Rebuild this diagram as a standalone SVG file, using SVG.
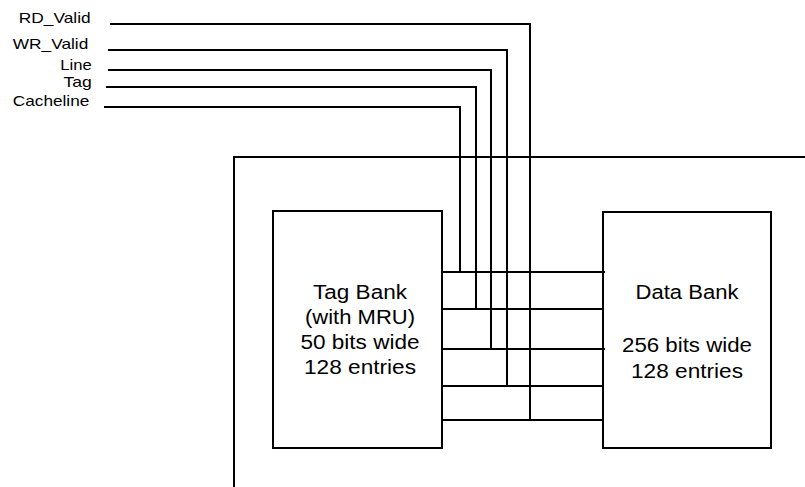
<svg xmlns="http://www.w3.org/2000/svg" width="805" height="487" viewBox="0 0 805 487">
<style>
.w{fill:none;stroke:#000;stroke-width:2}
.box{fill:#fff;stroke:#000;stroke-width:2}
.lbl{font-family:"Liberation Sans",Arial,sans-serif;font-size:15px;fill:#000;text-anchor:end}
.t{font-family:"Liberation Sans",Arial,sans-serif;font-size:20px;fill:#000;text-anchor:middle}
</style>
<rect width="805" height="487" fill="#fff"/>
<g id="boundary">
<polyline class="w" points="234,487 234,157 805,157"/>
</g>
<g id="labels">
<text class="lbl" x="90.7" y="23" textLength="72" lengthAdjust="spacingAndGlyphs">RD_Valid</text>
<text class="lbl" x="88.3" y="49" textLength="75.5" lengthAdjust="spacingAndGlyphs">WR_Valid</text>
<text class="lbl" x="91.7" y="70" textLength="31.5" lengthAdjust="spacingAndGlyphs">Line</text>
<text class="lbl" x="91.7" y="86.5" textLength="28.3" lengthAdjust="spacingAndGlyphs">Tag</text>
<text class="lbl" x="89.3" y="106" textLength="76.5" lengthAdjust="spacingAndGlyphs">Cacheline</text>
</g>
<g id="tag-bank">
<rect class="box" x="273" y="211" width="169" height="237"/>
<text class="t" x="360" y="299" textLength="94" lengthAdjust="spacingAndGlyphs">Tag Bank</text>
<text class="t" x="360" y="324" textLength="110" lengthAdjust="spacingAndGlyphs">(with MRU)</text>
<text class="t" x="360" y="348.5" textLength="119" lengthAdjust="spacingAndGlyphs">50 bits wide</text>
<text class="t" x="360" y="374" textLength="112" lengthAdjust="spacingAndGlyphs">128 entries</text>
</g>
<g id="data-bank">
<rect class="box" x="603" y="212" width="168" height="236"/>
<text class="t" x="687" y="298.5" textLength="103" lengthAdjust="spacingAndGlyphs">Data Bank</text>
<text class="t" x="687" y="351.5" textLength="130" lengthAdjust="spacingAndGlyphs">256 bits wide</text>
<text class="t" x="687" y="378" textLength="112" lengthAdjust="spacingAndGlyphs">128 entries</text>
</g>
<g id="connectors">
<polyline class="w" points="110,24 530,24 530,420"/>
<polyline class="w" points="108,50 507,50 507,386"/>
<polyline class="w" points="108,70 491,70 491,349"/>
<polyline class="w" points="106,87 476,87 476,309"/>
<polyline class="w" points="104,107 460,107 460,272"/>
<line class="w" x1="442" y1="272" x2="605" y2="272"/>
<line class="w" x1="442" y1="309" x2="604" y2="309"/>
<line class="w" x1="442" y1="349" x2="605" y2="349"/>
<line class="w" x1="442" y1="386" x2="603" y2="386"/>
<line class="w" x1="442" y1="420" x2="603" y2="420"/>
</g>
</svg>
